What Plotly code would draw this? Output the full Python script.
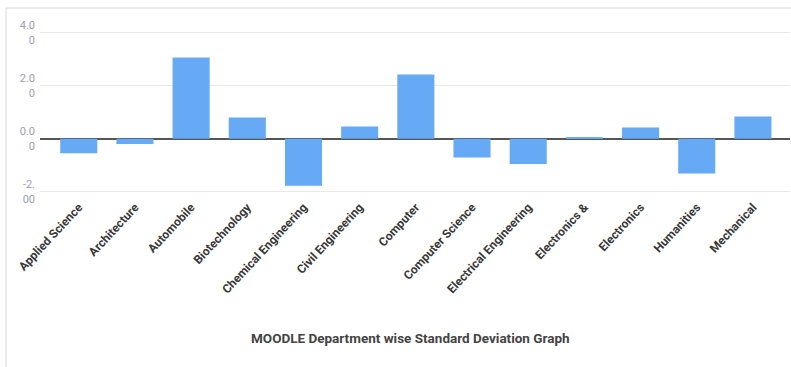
import plotly.graph_objects as go

departments = ["Applied Science", "Architecture", "Automobile", "Biotechnology",
               "Chemical Engineering", "Civil Engineering", "Computer",
               "Computer Science", "Electrical Engineering", "Electronics &",
               "Electronics", "Humanities", "Mechanical"]
std_dev = [-0.55, -0.2, 3.06, 0.8, -1.78, 0.46, 2.42, -0.71, -0.96, 0.05, 0.42, -1.31, 0.84]
y_tick_vals = [-2, 0, 2, 4]
y_tick_text = ["-2.<br>00", "0.0<br>0", "2.0<br>0", "4.0<br>0"]

W, H = 791, 367
ml, mr, mt, mb = 40, 1, 22, 170

fig = go.Figure(go.Bar(x=departments, y=std_dev, marker=dict(color="#66aaf6", line=dict(width=0))))

fig.update_layout(
    width=W, height=H,
    margin=dict(l=ml, r=mr, t=mt, b=mb),
    paper_bgcolor="white", plot_bgcolor="white",
    bargap=0.34, showlegend=False,
    font=dict(family="Roboto, Arial, sans-serif"),
    xaxis=dict(range=[-0.69, 12.66], tickangle=-47,
               tickfont=dict(size=12, color="#383838", family="Roboto, Arial", weight="bold"),
               showgrid=False, ticks="", showline=False),
    yaxis=dict(range=[-2.2, 4.4], tickvals=y_tick_vals, ticktext=y_tick_text,
               tickfont=dict(size=11, color="#9aa0b8"), gridcolor="#e8e8e8",
               zeroline=True, zerolinecolor="#555555", zerolinewidth=1.5,
               ticks="", ticklabelstandoff=4),
    annotations=[dict(text="MOODLE Department wise Standard Deviation Graph",
                      xref="paper", yref="paper", x=(410 - ml) / (W - ml - mr),
                      y=-(338 - (H - mb)) / (H - mt - mb), yanchor="middle",
                      showarrow=False,
                      font=dict(size=13.5, color="#444444", family="Roboto, Arial", weight="bold"))],
)

pw, ph = W - ml - mr, H - mt - mb
fig.add_shape(type="rect", xref="paper", yref="paper",
              x0=(6 - ml) / pw, x1=(800 - ml) / pw,
              y0=(H - mb - 372) / ph, y1=(H - mb - 8) / ph,
              line=dict(color="#d8d8e0", width=1), layer="below")

fig.write_html("out.html", config={"displayModeBar": False},
               post_script="document.body.style.margin='0';")
